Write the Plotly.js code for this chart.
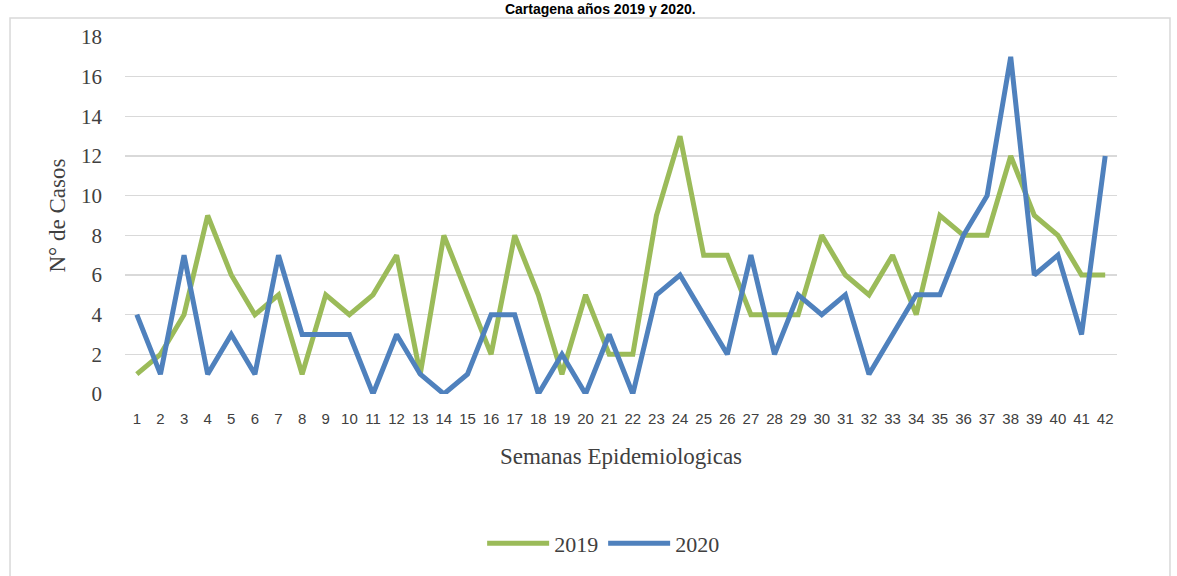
<!DOCTYPE html>
<html><head><meta charset="utf-8">
<script src="https://cdn.plot.ly/plotly-3.0.1.min.js"></script>
<style>html,body{margin:0;padding:0;background:#fff;}#chart{width:1177px;height:576px;}</style>
</head><body><div id="chart"></div>
<script>
const weeks = [1,2,3,4,5,6,7,8,9,10,11,12,13,14,15,16,17,18,19,20,21,22,23,24,25,26,27,28,29,30,31,32,33,34,35,36,37,38,39,40,41,42];
const cases2019 = [1,2,4,9,6,4,5,1,5,4,5,7,1,8,5,2,8,5,1,5,2,2,9,13,7,7,4,4,4,8,6,5,7,4,9,8,8,12,9,8,6,6];
const cases2020 = [4,1,7,1,3,1,7,3,3,3,0,3,1,0,1,4,4,0,2,0,3,0,5,6,4,2,7,2,5,4,5,1,3,5,5,8,10,17,6,7,3,12];
const yTicks = [0,2,4,6,8,10,12,14,16,18];

const serif = '"Liberation Serif", "DejaVu Serif", serif';
const labels = weeks.map(String);
const traces = [
  {x: labels, y: cases2019, name: '2019', type: 'scatter', mode: 'lines',
   line: {color: '#9BBB59', width: 5, shape: 'linear'}},
  {x: labels, y: cases2020, name: '2020', type: 'scatter', mode: 'lines',
   line: {color: '#4F81BD', width: 5, shape: 'linear'}}
];
const layout = {
  width: 1177, height: 576,
  margin: {l: 125, r: 60, t: 37, b: 182},
  paper_bgcolor: '#ffffff', plot_bgcolor: '#ffffff',
  showlegend: true,
  title: {text: '<b>Cartagena años 2019 y 2020.</b>', font: {family: 'Liberation Sans, Arial, sans-serif', size: 14, color: '#000'},
          xref: 'container', x: 0.51, xanchor: 'center', yref: 'container', y: 0.995, yanchor: 'top', pad: {t: 1}},
  xaxis: {type: 'category', range: [-0.5, 41.5], tickvals: labels, ticktext: labels,
          showgrid: false, zeroline: false, showline: false, ticks: '',
          tickfont: {family: '"Liberation Sans Narrow", "Liberation Sans", Arial, sans-serif', size: 15, color: '#404040'},
          ticklabelstandoff: 14,
          title: {text: 'Semanas Epidemiologicas', font: {family: serif, size: 23, color: '#404040'}, standoff: 21}},
  yaxis: {range: [0, 18], tickvals: yTicks, showgrid: true, gridcolor: '#D9D9D9', gridwidth: 1.5,
          zeroline: false, showline: false, ticks: '',
          tickfont: {family: serif, size: 21, color: '#404040'}, ticklabelstandoff: 22,
          title: {text: 'N° de Casos', font: {family: serif, size: 23, color: '#404040'}, standoff: 8}},
  legend: {orientation: 'h', x: 0.482, xanchor: 'center', y: -0.36, yanchor: 'top',
           font: {family: serif, size: 22, color: '#404040'}, itemwidth: 62, traceorder: 'normal'},
  shapes: [{type: 'rect', xref: 'paper', yref: 'paper', x0: -0.1159, x1: 1.0534, y0: -0.53, y1: 1.053,
            line: {color: '#D9D9D9', width: 1.5}, fillcolor: 'rgba(0,0,0,0)', layer: 'below'}]
};
Plotly.newPlot('chart', traces, layout, {displayModeBar: false, staticPlot: true});
</script></body></html>
